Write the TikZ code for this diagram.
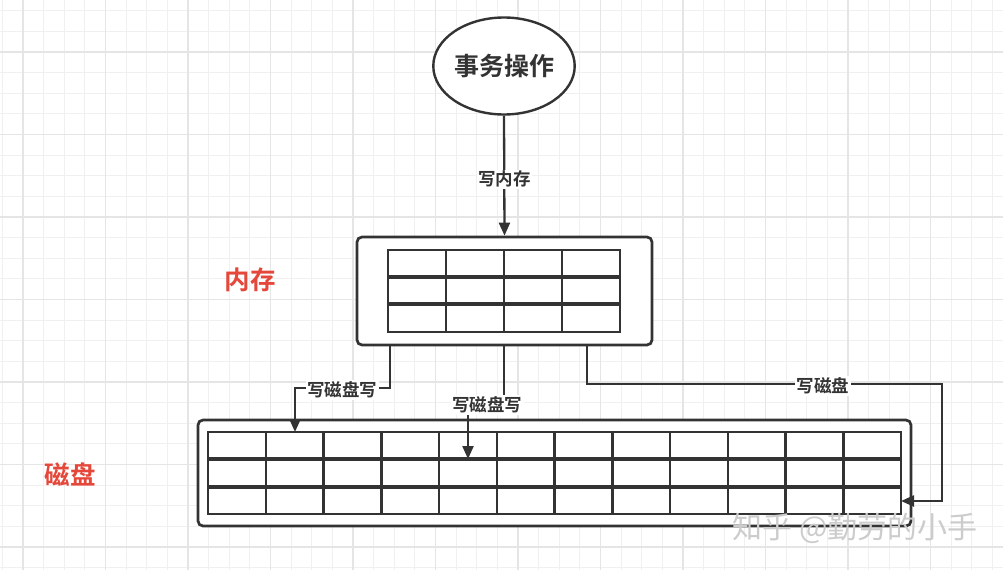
\documentclass[tikz,border=0pt]{standalone}
\usepackage{fontspec}
\newfontfamily\cjk{Noto Sans CJK SC}[BoldFont={Noto Sans CJK SC Bold}]
\usetikzlibrary{shapes.geometric,arrows.meta}
\definecolor{ink}{HTML}{333333}
\definecolor{redlab}{HTML}{E5473A}
\definecolor{gridminor}{HTML}{F0F0F0}
\definecolor{gridmajor}{HTML}{E5E5E5}
\definecolor{wmark}{HTML}{CCCCCC}
\begin{document}
\begin{tikzpicture}[x=1pt,y=-1pt,
  line/.style={draw=ink,line width=2.3pt},
  arr/.style={line,-{Triangle[length=13pt,width=11pt]}},
  lab/.style={fill=white,inner sep=1.5pt,text=ink,font=\cjk\bfseries\fontsize{17.5}{17.5}\selectfont},
  boxshape/.style={draw=ink,line width=2.7pt,rounded corners=5pt,inner sep=0pt},
  tbl/.style={draw=ink,line width=2.5pt},
  tblrow/.style={draw=ink,line width=3.5pt},
  redtext/.style={text=redlab,font=\cjk\bfseries\fontsize{25.5}{25.5}\selectfont},
]
% canvas
\useasboundingbox (0,0) rectangle (1003,570);
\fill[white] (0,0) rectangle (1003,570);
% grid
\foreach \i in {-1,...,48} \draw[gridminor,line width=1pt] ({23+\i*20.625},0) -- ({23+\i*20.625},570);
\foreach \j in {-2,...,26} \draw[gridminor,line width=1pt] (0,{52+\j*20.625}) -- (1003,{52+\j*20.625});
\foreach \i in {0,...,11} \draw[gridmajor,line width=1.1pt] ({23+\i*82.5},0) -- ({23+\i*82.5},570);
\foreach \j in {0,...,6} \draw[gridmajor,line width=1.1pt] (0,{52+\j*82.5}) -- (1003,{52+\j*82.5});

% nodes
\node[ellipse,draw=ink,line width=2.4pt,fill=white,minimum width=138pt,minimum height=97pt,inner sep=0pt,
      text=ink,font=\cjk\bfseries\fontsize{25}{25}\selectfont] (op) at (504,66) {事务操作};
\node[boxshape,fill=white,minimum width=295pt,minimum height=108pt] (mem) at (504.5,291) {};
\node[boxshape,fill=white,minimum width=713pt,minimum height=106pt] (disk) at (554.5,473) {};

% memory table
\draw[tbl] (388,250) rectangle (620,332);
\foreach \x in {446,504,562} \draw[tbl] (\x,250) -- (\x,332);
\foreach \y in {277,304} \draw[tblrow] (388,\y) -- (620,\y);

% disk table
\draw[tbl] (208,432) rectangle (901,514);
\foreach \k in {1,...,11} \draw[tbl] ({208+\k*57.75},432) -- ({208+\k*57.75},514);
\foreach \y in {459,487} \draw[tblrow] (208,\y) -- (901,\y);

% labels
\node[redtext] (lmem) at (250,280) {内存};
\node[redtext] (ldisk) at (70,475) {磁盘};

% connector endpoints
\coordinate (m1) at (390,345);
\coordinate (m2) at (504,345);
\coordinate (m3) at (587,345);
\coordinate (d1) at (295,432);
\coordinate (d2) at (468,459);
\coordinate (d3) at (901,501);

% connectors
\draw[arr] (op.south) -- node[lab,pos=0.53] {写内存} (mem.north);
\draw[arr] (m1) -- (390,388) -- (295,388) -- (d1);
\node[lab] (l1) at (342,390) {写磁盘写};
\draw[arr] (m2) -- (504,405) -- (468,405) -- (d2);
\node[lab] (l2) at (487,405) {写磁盘写};
\draw[arr] (m3) -- (587,384) -- (942,384) -- (942,501) -- (d3);
\node[lab] (l3) at (823,386) {写磁盘};

% watermark
\node[text=wmark,font=\cjk\fontsize{30}{30}\selectfont,inner sep=0pt] (wm) at (855,528) {知乎 @勤劳的小手};
\end{tikzpicture}
\end{document}
